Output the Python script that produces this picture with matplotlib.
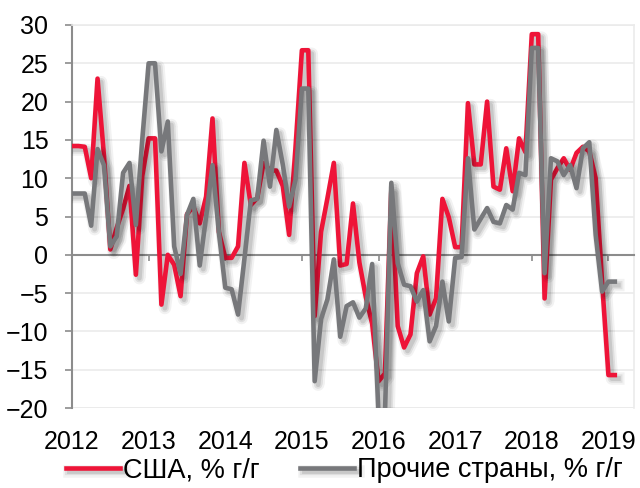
import matplotlib.pyplot as plt
import matplotlib.patheffects as pe
import numpy as np

plt.rcParams['font.family'] = ['Liberation Sans', 'DejaVu Sans']

# Monthly y/y growth, Jan 2012 - Feb 2019
usa = [14.2, 14.2, 14.1, 10.0, 23.0, 13.0, 0.7, 3.5, 6.0, 9.0, -2.6, 10.3,
       15.2, 15.2, -6.5, 0.0, -1.3, -5.4, 5.3, 6.3, 4.1, 7.6, 17.8, 3.0,
       -0.4, -0.4, 1.1, 12.0, 6.5, 7.4, 12.0, 11.0, 11.0, 9.0, 2.6, 14.0,
       26.7, 26.7, -8.0, 3.0, 7.4, 12.0, -1.4, -1.2, 6.7, -1.0, -5.5, -9.0,
       -16.5, -15.5, 8.5, -9.3, -12.1, -10.4, -2.4, -0.2, -7.8, -5.7, 7.3, 4.9,
       1.0, 1.0, 19.8, 11.8, 11.8, 20.0, 8.9, 8.5, 13.9, 8.3, 15.2, 13.4,
       28.8, 28.8, -5.7, 9.8, 11.3, 12.6, 11.1, 13.3, 14.1, 13.5, 10.0, -3.5,
       -15.7, -15.7]
other = [8.0, 8.0, 8.0, 3.8, 13.8, 11.7, 1.1, 2.4, 10.7, 12.0, 3.9, 15.0,
         25.0, 25.0, 13.5, 17.4, 1.1, -2.5, 5.2, 7.3, -1.4, 5.0, 11.7, 2.9,
         -4.3, -4.5, -7.8, -0.5, 7.1, 7.3, 14.9, 8.9, 16.3, 11.8, 6.3, 9.8,
         21.7, 21.7, -16.5, -8.4, -5.8, -0.6, -10.7, -6.7, -6.2, -8.2, -7.0, -1.2,
         -21.0, -21.0, 9.4, -1.1, -3.9, -4.1, -6.1, -4.6, -11.3, -9.3, -3.5, -8.7,
         -0.4, -0.3, 12.6, 3.3, 4.7, 6.1, 4.3, 4.1, 6.5, 5.9, 10.7, 10.4,
         27.0, 27.0, -2.4, 12.6, 12.2, 10.4, 11.7, 8.7, 13.9, 14.7, 2.6, -4.8,
         -3.5, -3.5]
years = ['2012', '2013', '2014', '2015', '2016', '2017', '2018', '2019']

RED = '#EE1438'
GREY = '#77787B'

months = np.arange(len(usa))
year_pos = np.arange(len(years)) * 12

fig = plt.figure(figsize=(6.4, 4.88), dpi=100)
ax = fig.add_axes([0.1125, 0.1639, 0.8781, 0.7849])

# soft drop shadow under each line
shadow = [pe.SimpleLineShadow(offset=(2.5, -2.5), shadow_color='k', alpha=0.05, linewidth=9),
          pe.SimpleLineShadow(offset=(2.5, -2.5), shadow_color='k', alpha=0.08, linewidth=6),
          pe.SimpleLineShadow(offset=(2.5, -2.5), shadow_color='k', alpha=0.10, linewidth=3.5),
          pe.Normal()]

ax.plot(months, usa, color=RED, lw=3.3, label='США, % г/г',
        path_effects=shadow, solid_joinstyle='round', zorder=3)
ax.plot(months, other, color=GREY, lw=3.3, label='Прочие страны, % г/г',
        path_effects=shadow, solid_joinstyle='round', zorder=4)

ax.set_xlim(0, 88)
ax.set_ylim(-20, 30)
ax.set_yticks(np.arange(-20, 31, 5))
ax.yaxis.grid(True, color='#EBEBEB', lw=1.2)
ax.set_axisbelow(True)

# plot-area frame
for side in ['top', 'right']:
    ax.spines[side].set_color('#EBEBEB')
    ax.spines[side].set_linewidth(1.2)
ax.spines['left'].set_color('#8C8C8C')
ax.spines['left'].set_linewidth(1.5)

# category axis crosses at zero
ax.spines['bottom'].set_position(('data', 0))
ax.spines['bottom'].set_color('#8C8C8C')
ax.spines['bottom'].set_linewidth(1.5)
ax.axhline(-20, color='#EBEBEB', lw=1.2, zorder=0)
ax.set_xticks(year_pos)
ax.tick_params(axis='x', direction='out', length=4, width=1.2, color='#8C8C8C',
               labelbottom=False)
ax.tick_params(axis='y', direction='out', length=5, width=1.2, color='#8C8C8C',
               labelsize=18, pad=12)

for xp, label in zip(year_pos, years):
    ax.text(xp, -0.09, label, transform=ax.get_xaxis_transform(),
            ha='center', va='center', fontsize=18)

fig.legend(loc='lower left', bbox_to_anchor=(0.065, -0.04), ncol=2, frameon=False,
           fontsize=19.5, handlelength=2.0, handletextpad=0.1, columnspacing=1.5)

fig.savefig('out.png', dpi=100)
